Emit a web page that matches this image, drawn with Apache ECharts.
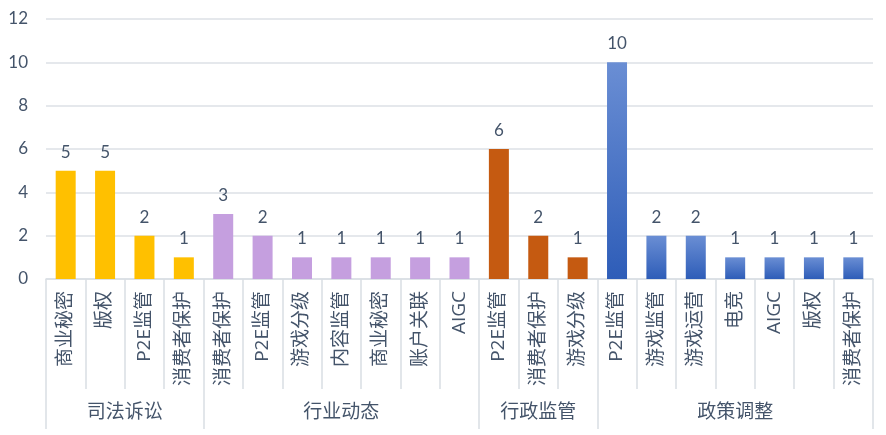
<!DOCTYPE html>
<html>
<head>
<meta charset="utf-8">
<script src="https://cdn.jsdelivr.net/npm/echarts@6/dist/echarts.min.js"></script>
<style>html,body{margin:0;padding:0;background:#fff}#c{width:886px;height:435px}</style>
</head>
<body>
<div id="c"></div>
<script>
var groups = ['司法诉讼', '行业动态', '行政监管', '政策调整'];
var groupCategories = [
  ['商业秘密', '版权', 'P2E监管', '消费者保护'],
  ['消费者保护', 'P2E监管', '游戏分级', '内容监管', '商业秘密', '账户关联', 'AIGC'],
  ['P2E监管', '消费者保护', '游戏分级'],
  ['P2E监管', '游戏监管', '游戏运营', '电竞', 'AIGC', '版权', '消费者保护']
];
var groupValues = [
  [5, 5, 2, 1],
  [3, 2, 1, 1, 1, 1, 1],
  [6, 2, 1],
  [10, 2, 2, 1, 1, 1, 1]
];
var yTicks = [0, 2, 4, 6, 8, 10, 12];

var groupColors = [
  '#FFC000',
  '#C59FDF',
  '#C55A11',
  new echarts.graphic.LinearGradient(0, 0, 0, 1, [
    {offset: 0, color: '#6A8ED4'},
    {offset: 1, color: '#2E5DB8'}
  ])
];

var categories = [];
var data = [];
var boundaries = [0];
var centers = [];
var centerName = {};
groupCategories.forEach(function (cats, gi) {
  var start = categories.length;
  cats.forEach(function (c, i) {
    categories.push(c);
    data.push({value: groupValues[gi][i], itemStyle: {color: groupColors[gi]}});
  });
  var end = categories.length;
  boundaries.push(end);
  var mid = (start + end) / 2;
  centers.push(mid);
  centerName[mid] = groups[gi];
});

var textColor = '#44546A';
var font = '"Open Sans", "Noto Sans CJK SC", sans-serif';
var numFont = 'Lato, "Open Sans", sans-serif';
var lineColor = '#D9DEE4';

var chart = echarts.init(document.getElementById('c'));
chart.setOption({
  animation: false,
  grid: {left: 46, right: 13, top: 19, bottom: 156, containLabel: false},
  xAxis: [
    {
      type: 'category',
      data: categories,
      position: 'bottom',
      axisLine: {show: true, lineStyle: {color: lineColor, width: 1.5}},
      axisTick: {show: true, interval: 0, length: 110, lineStyle: {color: lineColor, width: 1.5}},
      axisLabel: {interval: 0, rotate: 90, margin: 12, fontSize: 19, color: textColor, fontFamily: font},
      splitLine: {show: false}
    },
    {
      type: 'value',
      min: 0,
      max: categories.length,
      position: 'bottom',
      axisLine: {show: false},
      axisTick: {show: true, customValues: boundaries, length: 150, lineStyle: {color: lineColor, width: 1.5}},
      axisLabel: {
        show: true,
        customValues: centers,
        margin: 124,
        fontSize: 19,
        color: textColor,
        fontFamily: font,
        formatter: function (v) { return centerName[v] || ''; }
      },
      splitLine: {show: false}
    }
  ],
  yAxis: {
    type: 'value',
    min: yTicks[0],
    max: yTicks[yTicks.length - 1],
    interval: 2,
    axisLine: {show: false},
    axisTick: {show: false},
    axisLabel: {margin: 18, fontSize: 17, color: textColor, fontFamily: numFont},
    splitLine: {lineStyle: {color: '#DDE1E6', width: 1.5}}
  },
  series: [{
    type: 'bar',
    xAxisIndex: 0,
    data: data,
    barWidth: 20,
    label: {show: true, position: 'top', distance: 10, fontSize: 17, color: textColor, fontFamily: numFont}
  }]
});
</script>
</body>
</html>
